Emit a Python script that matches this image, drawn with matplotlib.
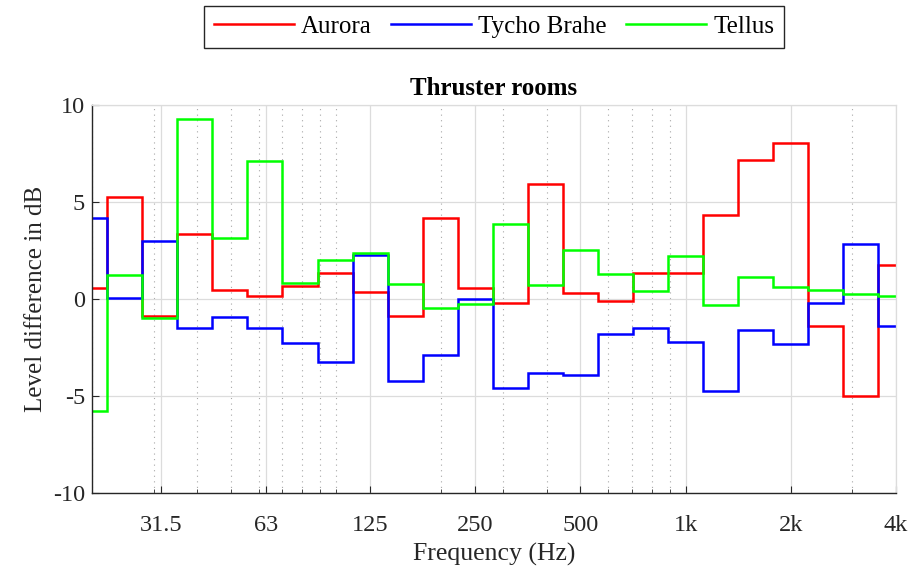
import numpy as np
import matplotlib.pyplot as plt
from matplotlib.ticker import FixedLocator, LogLocator, NullFormatter

plt.rcParams['font.family'] = ['Liberation Serif', 'DejaVu Serif']
plt.rcParams['axes.unicode_minus'] = False

# third-octave bands, 20 Hz .. 4 kHz
band_labels = ['20', '25', '31.5', '40', '50', '63', '80', '100', '125', '160', '200', '250',
               '315', '400', '500', '630', '800', '1k', '1.25k', '1.6k', '2k', '2.5k', '3.15k', '4k']
band_index = np.arange(-17, 7)  # 1000 * 2^(n/3)

aurora = [0.55, 5.24, -0.88, 3.37, 0.46, 0.17, 0.69, 1.32, 0.35, -0.88, 4.19, 0.55,
          -0.19, 5.93, 0.33, -0.12, 1.34, 1.34, 4.31, 7.15, 8.06, -1.39, -5.0, 1.75]
tycho_brahe = [4.18, 0.04, 2.97, -1.48, -0.94, -1.48, -2.29, -3.26, 2.28, -4.21, -2.90, 0.0,
               -4.57, -3.81, -3.93, -1.80, -1.51, -2.22, -4.73, -1.61, -2.32, -0.21, 2.84, -1.41]
tellus = [-5.79, 1.24, -0.99, 9.28, 3.16, 7.10, 0.81, 2.01, 2.36, 0.76, -0.46, -0.27,
          3.87, 0.71, 2.53, 1.31, 0.40, 2.20, -0.32, 1.13, 0.64, 0.48, 0.27, 0.14]

xtick_vals = [31.5, 63, 125, 250, 500, 1000, 2000, 4000]
xtick_labels = ['31.5', '63', '125', '250', '500', '1k', '2k', '4k']
yticks = [-10, -5, 0, 5, 10]

centers = 1000 * 2.0 ** (band_index / 3)
edges = np.append(centers * 2 ** (-1 / 6), centers[-1] * 2 ** (1 / 6))

fig = plt.figure(figsize=(9.13, 5.73), dpi=100)
ax = fig.add_axes([0.1008, 0.1396, 0.8806, 0.6772])

series = [('Aurora', aurora, '#ff0000'),
          ('Tycho Brahe', tycho_brahe, '#0000ff'),
          ('Tellus', tellus, '#00ff00')]
handles = []
for name, vals, col in series:
    h = ax.stairs(vals, edges, baseline=None, color=col, linewidth=1.8, label=name)
    handles.append(h)

ax.set_xscale('log')
ax.set_xlim(20, 4000)
ax.set_ylim(-10, 10)
ax.xaxis.set_major_locator(FixedLocator(xtick_vals))
ax.set_xticklabels(xtick_labels)
ax.xaxis.set_minor_locator(LogLocator(base=10, subs=np.arange(1, 10), numticks=20))
ax.xaxis.set_minor_formatter(NullFormatter())
ax.set_yticks(yticks)

ax.grid(True, which='major', color='#dcdcdc', linewidth=0.9, linestyle='-')
ax.grid(True, which='minor', axis='x', color='#a8a8a8', linewidth=0.8, linestyle=(0, (1, 4)))
ax.set_axisbelow(True)

ax.tick_params(which='both', direction='in', labelsize=17.5, colors='#262626')
ax.tick_params(which='major', length=5)
ax.tick_params(which='minor', length=3)
ax.tick_params(axis='x', pad=16)
ax.tick_params(axis='y', pad=5)
ax.tick_params(top=False, right=False, which='both')
for sp in ['left', 'bottom']:
    ax.spines[sp].set_color('#262626')
    ax.spines[sp].set_linewidth(1.0)
for sp in ['top', 'right']:
    ax.spines[sp].set_color('#dcdcdc')
    ax.spines[sp].set_linewidth(0.9)

ax.set_xlabel('Frequency (Hz)', fontsize=18.5, color='#262626', labelpad=5)
ax.set_ylabel('Level difference in dB', fontsize=18, color='#262626', labelpad=4)
ax.set_title('Thruster rooms', fontsize=18, fontweight='bold', pad=7)

leg = fig.legend(handles=handles, loc='upper center', bbox_to_anchor=(0.541, 0.99), ncol=3,
                 fontsize=18, frameon=True, fancybox=False, framealpha=1, edgecolor='#262626',
                 handlelength=3.2, handletextpad=0.3, columnspacing=0.75, borderpad=0.4,
                 borderaxespad=0)
leg.get_frame().set_linewidth(1.0)
for line in leg.get_lines():
    line.set_linewidth(1.8)

fig.savefig('out.png', dpi=100)
